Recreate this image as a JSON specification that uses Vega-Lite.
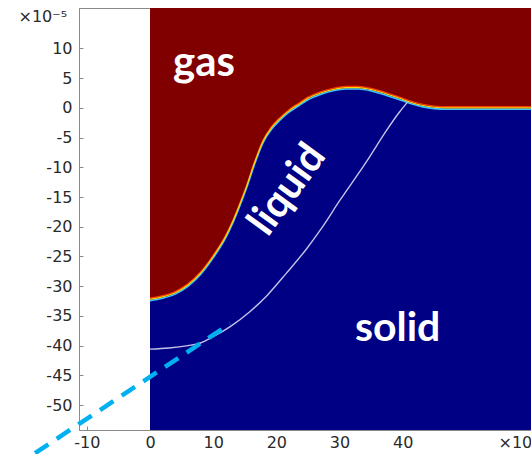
{
  "$schema": "https://vega.github.io/schema/vega-lite/v6.json",
  "width": 466,
  "height": 422,
  "autosize": "none",
  "padding": {"left": 79, "top": 8, "right": 0, "bottom": 24},
  "background": "white",
  "config": {
    "view": {"stroke": "#8a8a8a", "strokeWidth": 1},
    "axis": {
      "grid": false,
      "labelFont": "DejaVu Sans",
      "labelFontSize": 16,
      "labelColor": "#2a2a2a",
      "titleFont": "DejaVu Sans",
      "titleFontSize": 16,
      "titleFontWeight": "normal",
      "titleColor": "#2a2a2a",
      "domainColor": "#8a8a8a",
      "tickColor": "#8a8a8a",
      "tickSize": -4
    }
  },
  "datasets": {
    "interface": [
      {"x": 0, "y": -32.2}, {"x": 2, "y": -31.8}, {"x": 4, "y": -31.1}, {"x": 6, "y": -29.8},
      {"x": 8, "y": -27.8}, {"x": 10, "y": -25.0}, {"x": 12, "y": -21.6}, {"x": 13.2, "y": -18.9},
      {"x": 14.2, "y": -16.3}, {"x": 15.3, "y": -13.2}, {"x": 16.5, "y": -9.4}, {"x": 17.9, "y": -5.6},
      {"x": 19.2, "y": -3.4}, {"x": 20.6, "y": -1.8}, {"x": 22, "y": -0.5}, {"x": 23.7, "y": 0.7},
      {"x": 25, "y": 1.6}, {"x": 27, "y": 2.5}, {"x": 29, "y": 3.1}, {"x": 31, "y": 3.4},
      {"x": 33, "y": 3.4}, {"x": 35.3, "y": 3.0}, {"x": 37, "y": 2.5}, {"x": 39.5, "y": 1.6},
      {"x": 41.1, "y": 1.0}, {"x": 43.2, "y": 0.4}, {"x": 45, "y": 0.1}, {"x": 47, "y": 0},
      {"x": 62.53, "y": 0}
    ],
    "solidline": [
      {"x": 0, "y": -40.6}, {"x": 3, "y": -40.4}, {"x": 6, "y": -40.0}, {"x": 7.9, "y": -39.6},
      {"x": 10, "y": -38.5}, {"x": 12.7, "y": -36.8}, {"x": 15.8, "y": -34.3}, {"x": 18.5, "y": -31.6},
      {"x": 21.6, "y": -27.8}, {"x": 24.8, "y": -23.7}, {"x": 27, "y": -20.5}, {"x": 30.1, "y": -15.5},
      {"x": 34.3, "y": -9.0}, {"x": 37.5, "y": -3.7}, {"x": 39.5, "y": -0.7}, {"x": 40.8, "y": 1.0}
    ],
    "dashed": [
      {"x": -18.2, "y": -58.1}, {"x": 12.7, "y": -36.3}
    ],
    "labels": [
      {"label": "gas", "x": 8.55, "y": 5.3},
      {"label": "liquid", "x": 21.8, "y": -13.8},
      {"label": "solid", "x": 39.2, "y": -39.3}
    ]
  },
  "encoding": {
    "x": {
      "field": "x", "type": "quantitative",
      "scale": {"domain": [-11.24, 62.53], "nice": false, "zero": false},
      "axis": {
        "orient": "bottom",
        "values": [-10, 0, 10, 20, 30, 40, 50],
        "labelExpr": "datum.value == 50 ? '' : '' + datum.value",
        "labelPadding": 8,
        "title": "×10⁻⁵",
        "titleAlign": "left",
        "titleBaseline": "alphabetic",
        "titleX": 419,
        "titleY": 17
      }
    },
    "y": {
      "field": "y", "type": "quantitative",
      "scale": {"domain": [-54.2, 16.8], "nice": false, "zero": false},
      "axis": {
        "orient": "left",
        "values": [-50, -45, -40, -35, -30, -25, -20, -15, -10, -5, 0, 5, 10],
        "labelExpr": "'' + datum.value",
        "labelPadding": 11,
        "title": "×10⁻⁵",
        "titleAngle": 0,
        "titleAlign": "left",
        "titleBaseline": "alphabetic",
        "titleX": -61,
        "titleY": 13
      }
    }
  },
  "layer": [
    {
      "data": {"name": "interface"},
      "mark": {"type": "area", "color": "#000084", "clip": true, "interpolate": "monotone"},
      "encoding": {"y2": {"datum": -54.2}}
    },
    {
      "data": {"name": "interface"},
      "mark": {"type": "area", "color": "#800000", "clip": true, "interpolate": "monotone"},
      "encoding": {"y2": {"datum": 16.8}}
    },
    {
      "data": {"name": "interface"},
      "mark": {"type": "line", "color": "#ff3a00", "strokeWidth": 1.2, "yOffset": -1.2, "clip": true, "interpolate": "monotone"},
      "encoding": {}
    },
    {
      "data": {"name": "interface"},
      "mark": {"type": "line", "color": "#3cc8ff", "strokeWidth": 1.6, "yOffset": 1.4, "clip": true, "interpolate": "monotone"},
      "encoding": {}
    },
    {
      "data": {"name": "interface"},
      "mark": {"type": "line", "color": "#ffd400", "strokeWidth": 1.1, "clip": true, "interpolate": "monotone"},
      "encoding": {}
    },
    {
      "data": {"name": "solidline"},
      "mark": {"type": "line", "color": "#c4c4e8", "strokeWidth": 1.4, "interpolate": "monotone"},
      "encoding": {}
    },
    {
      "data": {"name": "dashed"},
      "mark": {"type": "line", "color": "#00b0f0", "strokeWidth": 4.5, "strokeDash": [16, 10], "clip": false},
      "encoding": {}
    },
    {
      "data": {"name": "labels"},
      "transform": [{"filter": "datum.label == 'gas'"}],
      "mark": {"type": "text", "font": "Lato", "fontWeight": "bold", "fontSize": 42, "color": "white", "align": "center", "baseline": "alphabetic"},
      "encoding": {"text": {"field": "label"}}
    },
    {
      "data": {"name": "labels"},
      "transform": [{"filter": "datum.label == 'liquid'"}],
      "mark": {"type": "text", "font": "Lato", "fontWeight": "bold", "fontSize": 41, "color": "white", "align": "center", "baseline": "middle", "angle": -54},
      "encoding": {"text": {"field": "label"}}
    },
    {
      "data": {"name": "labels"},
      "transform": [{"filter": "datum.label == 'solid'"}],
      "mark": {"type": "text", "font": "Lato", "fontWeight": "bold", "fontSize": 41, "color": "white", "align": "center", "baseline": "alphabetic"},
      "encoding": {"text": {"field": "label"}}
    }
  ]
}
